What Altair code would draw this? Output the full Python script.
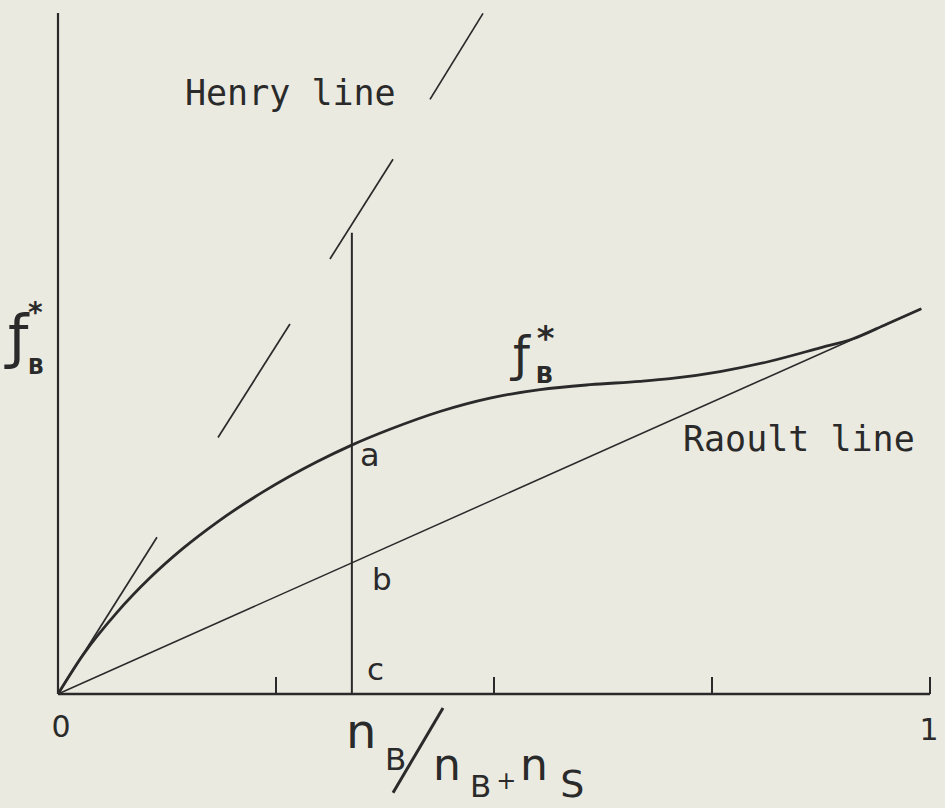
import altair as alt
import pandas as pd

# Mole fraction of solute B and its fugacity f_B*
curve_x = [0.0, 0.0287, 0.0677, 0.1055, 0.1433, 0.1823, 0.2351, 0.297, 0.3349,
           0.3807, 0.438, 0.4954, 0.5528, 0.610, 0.6674, 0.7018, 0.7592, 0.8165,
           0.8739, 0.9117, 0.9507, 0.99]
curve_y = [0.0, 0.1005, 0.2097, 0.2985, 0.3741, 0.4412, 0.5193, 0.5967, 0.6376,
           0.6802, 0.726, 0.7604, 0.7822, 0.7948, 0.8034, 0.8103, 0.8287, 0.8551,
           0.8895, 0.9129, 0.951, 0.99]

# Raoult line (ideal solution)
raoult_x = [0.0, 0.99]
raoult_y = [0.0, 0.99]

# Henry line, drawn as broken segments along the limiting tangent
henry_x1 = [0.0, 0.1835, 0.3119, 0.4266]
henry_y1 = [0.0, 0.659, 1.118, 1.528]
henry_x2 = [0.1135, 0.266, 0.3842, 0.4874]
henry_y2 = [0.403, 0.951, 1.374, 1.749]

# Composition marker with points a, b, c
marker_x = 0.337
marker_top = 1.185

tick_x = [0.25, 0.5, 0.75, 1.0]
tick_len = 0.044
y_top = 1.75

# Fraction bar of the x-axis title
slash_x = [0.4415]
slash_y = [-0.0359]
slash_x2 = [0.3842]
slash_y2 = [-0.2538]

INK = "#2a2a2a"
SANS = "DejaVu Sans"
MONO = "DejaVu Sans Mono"

W, H = 872, 681

xs = alt.Scale(domain=[0, 1], nice=False, zero=False)
ys = alt.Scale(domain=[0, y_top], nice=False, zero=False)

curve_df = pd.DataFrame({"x": curve_x, "y": curve_y})
raoult_df = pd.DataFrame({"x": raoult_x, "y": raoult_y})
henry_df = pd.DataFrame({"x": henry_x1, "y": henry_y1, "x2": henry_x2, "y2": henry_y2})
marker_df = pd.DataFrame({"x": [marker_x], "y": [0.0], "y2": [marker_top]})
ticks_df = pd.DataFrame({"x": tick_x, "y": [0.0] * 4, "y2": [tick_len] * 4})
yaxis_df = pd.DataFrame({"x": [0.0], "y": [0.0], "y2": [y_top]})
xaxis_df = pd.DataFrame({"x": [0.0], "x2": [1.0], "y": [0.0]})
slash_df = pd.DataFrame({"x": slash_x, "y": slash_y, "x2": slash_x2, "y2": slash_y2})

X = lambda: alt.X("x:Q", scale=xs, axis=None)
Y = lambda: alt.Y("y:Q", scale=ys, axis=None)

curve = alt.Chart(curve_df).mark_line(color=INK, strokeWidth=2.8, interpolate="monotone").encode(
    x=X(), y=Y(), order="x:Q")
raoult = alt.Chart(raoult_df).mark_line(color=INK, strokeWidth=1.5).encode(x=X(), y=Y())
henry = alt.Chart(henry_df).mark_rule(color=INK, strokeWidth=1.7).encode(
    x=X(), y=Y(), x2="x2:Q", y2="y2:Q")
marker = alt.Chart(marker_df).mark_rule(color=INK, strokeWidth=2).encode(x=X(), y=Y(), y2="y2:Q")
ticks = alt.Chart(ticks_df).mark_rule(color=INK, strokeWidth=2).encode(x=X(), y=Y(), y2="y2:Q")
yaxis = alt.Chart(yaxis_df).mark_rule(color=INK, strokeWidth=2.2).encode(x=X(), y=Y(), y2="y2:Q")
xaxis = alt.Chart(xaxis_df).mark_rule(color=INK, strokeWidth=2.5).encode(x=X(), x2="x2:Q", y=Y())
slash = alt.Chart(slash_df).mark_rule(color=INK, strokeWidth=3).encode(
    x=X(), y=Y(), x2="x2:Q", y2="y2:Q")

# Labels: text, position, size, alignment, font, weight
lab_text = ["Henry line", "Raoult line", "a", "b", "c", "0", "1",
            "ƒ", "*", "B",            # curve label
            "ƒ", "*", "B",            # y-axis label
            "n", "B", "n", "B", "+", "n", "S"]  # x-axis title
lab_x = [0.1456, 0.7167, 0.3463, 0.360, 0.3544, 0.0034, 0.9989,
         0.5218, 0.549, 0.548,
         -0.0573, -0.0344, -0.0344,
         0.3302, 0.375, 0.4300, 0.4725, 0.5140, 0.5298, 0.5760]
lab_y = [1.513, 0.6256, 0.587, 0.2667, 0.0359, -0.110, -0.118,
         0.831, 0.885, 0.80,
         0.867, 0.955, 0.823,
         -0.138, -0.195, -0.221, -0.265, -0.2436, -0.221, -0.265]
lab_size = [35, 35, 32, 31, 31, 30, 30,
            48, 34, 23,
            58, 28, 21,
            48, 31, 44, 31, 24, 44, 38]
lab_align = ["left", "left", "left", "left", "left", "center", "center",
             "left", "left", "left",
             "left", "left", "left",
             "left", "left", "left", "left", "center", "left", "left"]
lab_font = [MONO, MONO] + [SANS] * 18
lab_weight = ["normal"] * 8 + ["bold", "bold", "normal", "bold", "bold"] + ["normal"] * 7

labels_df = pd.DataFrame({"x": lab_x, "y": lab_y, "t": lab_text, "s": lab_size,
                          "a": lab_align, "f": lab_font, "w": lab_weight})

layers = []
for (al, fn, wt), sub in labels_df.groupby(["a", "f", "w"]):
    layers.append(
        alt.Chart(sub).mark_text(color=INK, font=fn, fontWeight=wt, align=al,
                                 baseline="alphabetic").encode(
            x=X(), y=Y(), text="t:N",
            size=alt.Size("s:Q", scale=None, legend=None)))

chart = alt.layer(yaxis, xaxis, ticks, raoult, henry, marker, curve, slash, *layers).properties(
    width=W, height=H,
    padding={"left": 58, "top": 13, "right": 15, "bottom": 114},
    autosize=alt.AutoSizeParams(type="none"),
    background="#ebeae1",
).configure_view(stroke=None)

chart.save("out.html", embed_options={"renderer": "svg", "actions": False})
